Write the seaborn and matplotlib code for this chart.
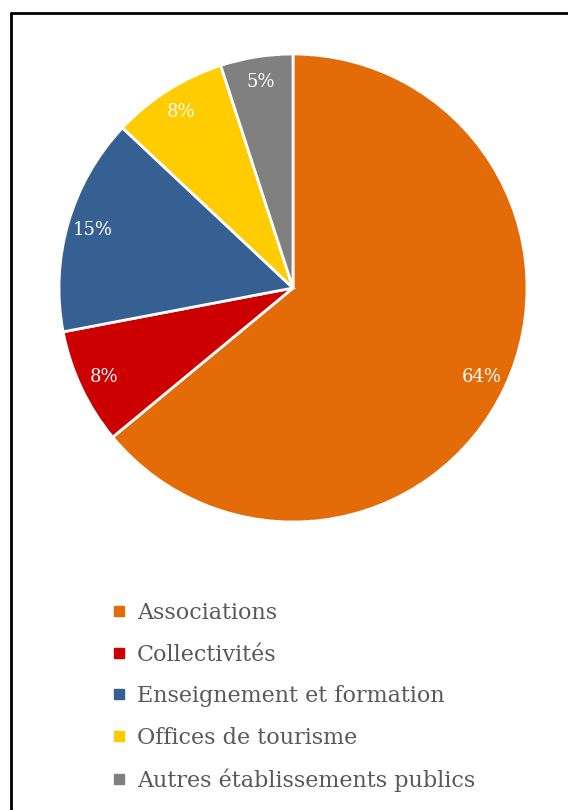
import matplotlib
matplotlib.use("Agg")
import matplotlib.pyplot as plt
from matplotlib.lines import Line2D
import seaborn as sns

categories = ["Associations", "Collectivités", "Enseignement et formation",
              "Offices de tourisme", "Autres établissements publics"]
shares = [64, 8, 15, 8, 5]
colors = ["#E36C09", "#CC0000", "#376092", "#FFCC00", "#808080"]

sns.set_theme(style="white")
plt.rcParams["font.family"] = ["DejaVu Serif"]

W, H = 568, 810
fig = plt.figure(figsize=(W / 100, H / 100), dpi=100)
fig.patch.set_facecolor("white")

# pie area: centre (293, 288) px, radius 234 px
cx, cy, r = 293, 288, 234
ax = fig.add_axes([(cx - r) / W, 1 - (cy + r) / H, 2 * r / W, 2 * r / H])

wedges, _, autotexts = ax.pie(
    shares, colors=sns.color_palette(colors), startangle=90, counterclock=False,
    autopct="%d%%", pctdistance=0.89,
    wedgeprops=dict(edgecolor="white", linewidth=2),
    textprops=dict(color="white", fontsize=13),
)
ax.set_xlim(-1, 1)
ax.set_ylim(-1, 1)
ax.set_aspect("equal")
ax.axis("off")

handles = [Line2D([], [], marker="s", linestyle="none", markersize=6.5,
                  markerfacecolor=c, markeredgecolor=c) for c in colors]
fig.legend(handles, categories, loc="upper left",
           bbox_to_anchor=(110 / W, 1 - 602 / H), frameon=False,
           fontsize=16, labelcolor="#595959", handlelength=0.8,
           handletextpad=0.4, labelspacing=0.88, borderpad=0,
           borderaxespad=0)

# outer frame (left and top edges visible)
fig.add_artist(Line2D([11 / W, 11 / W], [0, 1 - 13 / H], color="black",
                      lw=2, transform=fig.transFigure))
fig.add_artist(Line2D([11 / W, 1], [1 - 13 / H, 1 - 13 / H], color="black",
                      lw=2, transform=fig.transFigure))

fig.savefig("out.png", dpi=100)
